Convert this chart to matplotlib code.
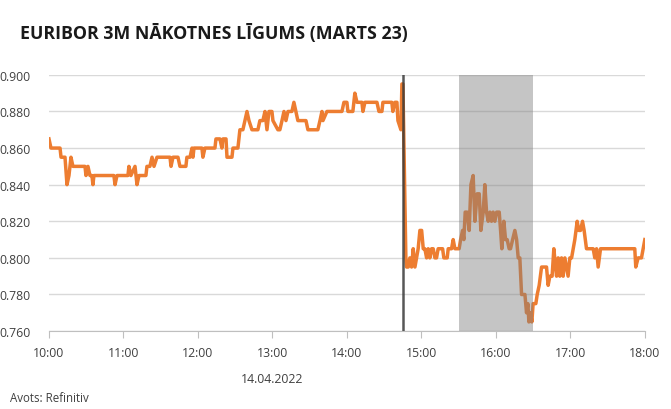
import matplotlib.pyplot as plt

# minūtes kopš 10:00 un cena
minutes = [0, 1.6, 8.9, 9.7, 12.9, 14.5, 16.1, 17.7, 19.3, 29.0, 29.8, 31.4, 33.0, 34.6, 35.4, 36.2,
           52.3, 53.2, 54.8, 63.6, 64.4, 66.0, 69.3, 70.9, 72.5, 78.1, 78.9, 81.3, 83.0, 84.6, 87.0,
           97.5, 98.3, 99.9, 103.9, 105.5, 110.3, 111.1, 113.6, 115.2, 116.0, 116.8, 123.2, 124.0,
           125.6, 133.7, 134.5, 137.7, 139.3, 140.1, 142.6, 143.4, 147.4, 148.2, 152.2, 153.8, 156.2,
           159.5, 161.1, 163.5, 168.3, 169.9, 172.3, 174.0, 174.8, 175.6, 177.2, 179.6, 180.4, 184.4,
           186.0, 187.7, 189.3, 190.9, 192.5, 195.7, 197.3, 200.5, 207.0, 208.6, 216.6, 218.3, 219.9,
           220.7, 223.9, 236.0, 237.6, 240.0, 240.8, 244.8, 246.4, 248.1, 252.1, 252.9, 254.5, 264.2,
           265.8, 268.2, 269.0, 276.2, 277.0, 278.7, 280.3, 281.1, 283.5, 284.3, 285.1, 287.5,
           288.1, 289.4, 290.7, 292.1, 293.4, 294.8, 296.1, 297.4, 298.8, 300.2, 301.5, 302.8, 304.2,
           305.5, 306.8, 308.2, 309.5, 310.9, 312.2, 313.5, 317.1, 318.1, 320.8, 321.6, 324.3, 325.6,
           327.0, 330.4, 331.6, 333.2, 334.2, 335.3, 336.9, 338.5, 339.9, 341.7, 343.1, 344.9, 346.6,
           347.9, 349.8, 351.1, 352.5, 353.8, 355.2, 356.5, 357.8, 359.2, 360.6, 362.7, 363.8, 364.8,
           366.4, 367.8, 369.1, 370.7, 371.8, 373.5, 375.3, 376.7, 378.0, 379.3, 380.7, 383.4, 384.7,
           385.8, 386.6, 387.9, 389.0, 390.0, 392.2, 393.3, 394.9, 396.8, 400.8, 402.1, 403.5, 405.3,
           406.7, 408.1, 408.9, 410.2, 411.5, 412.9, 414.2, 415.6, 416.9, 418.2, 419.6, 421.0, 422.3,
           423.6, 425.5, 426.8, 428.2, 429.8, 431.1, 433.0, 438.4, 439.7, 441.1, 442.4, 444.3, 471.9,
           472.7, 474.6, 477.3, 480.0]
price = [0.865, 0.860, 0.860, 0.855, 0.855, 0.840, 0.845, 0.855, 0.850, 0.850, 0.845, 0.850, 0.845,
         0.845, 0.840, 0.845, 0.845, 0.840, 0.845, 0.845, 0.850, 0.845, 0.850, 0.840, 0.845, 0.845,
         0.850, 0.850, 0.855, 0.850, 0.855, 0.855, 0.850, 0.855, 0.855, 0.850, 0.850, 0.855, 0.855,
         0.860, 0.855, 0.860, 0.860, 0.855, 0.860, 0.860, 0.865, 0.865, 0.860, 0.865, 0.865, 0.855,
         0.855, 0.860, 0.860, 0.870, 0.870, 0.880, 0.875, 0.870, 0.870, 0.875, 0.875, 0.880, 0.875,
         0.870, 0.880, 0.880, 0.875, 0.870, 0.870, 0.875, 0.880, 0.875, 0.880, 0.880, 0.885, 0.875,
         0.875, 0.870, 0.870, 0.875, 0.880, 0.875, 0.880, 0.880, 0.885, 0.885, 0.880, 0.880, 0.890,
         0.885, 0.885, 0.880, 0.885, 0.885, 0.880, 0.880, 0.885, 0.885, 0.880, 0.885, 0.885, 0.875,
         0.870, 0.895, 0.895, 0.800,
         0.795, 0.795, 0.800, 0.795, 0.805, 0.795, 0.800, 0.805, 0.815, 0.815, 0.805, 0.805, 0.800,
         0.805, 0.800, 0.805, 0.805, 0.800, 0.800, 0.805, 0.805, 0.800, 0.800, 0.805, 0.805, 0.810,
         0.805, 0.805, 0.810, 0.815, 0.810, 0.825, 0.825, 0.815, 0.840, 0.845, 0.820, 0.835, 0.835,
         0.815, 0.825, 0.840, 0.825, 0.820, 0.825, 0.820, 0.825, 0.820, 0.825, 0.825, 0.815, 0.805,
         0.820, 0.810, 0.810, 0.805, 0.805, 0.810, 0.815, 0.810, 0.800, 0.800, 0.780, 0.780, 0.770,
         0.775, 0.765, 0.770, 0.765, 0.775, 0.775, 0.780, 0.785, 0.795, 0.795, 0.785, 0.790, 0.790,
         0.805, 0.795, 0.790, 0.800, 0.790, 0.800, 0.790, 0.800, 0.795, 0.790, 0.800, 0.800, 0.805,
         0.810, 0.820, 0.815, 0.815, 0.820, 0.815, 0.805, 0.805, 0.800, 0.805, 0.795, 0.805, 0.805,
         0.795, 0.800, 0.800, 0.810]

hour_labels = ['10:00', '11:00', '12:00', '13:00', '14:00', '15:00', '16:00', '17:00', '18:00']
y_ticks = [0.760, 0.780, 0.800, 0.820, 0.840, 0.860, 0.880, 0.900]
ecb_decision = 285            # 14:45
press_conf = (330, 390)       # 15:30 - 16:30

plt.rcParams['font.family'] = ['Open Sans', 'DejaVu Sans']

fig = plt.figure(figsize=(6.71, 4.10), dpi=100)
ax = fig.add_axes([0.073, 0.19, 0.888, 0.625])

ax.plot(minutes, price, color='#ED7D31', linewidth=2.5, zorder=2)
ax.axvspan(press_conf[0], press_conf[1], color='#7f7f7f', alpha=0.45, linewidth=0, zorder=3)
ax.axvline(ecb_decision, color='#3a3a3a', alpha=0.85, linewidth=1.8, zorder=4)

ax.set_xlim(0, 480)
ax.set_ylim(0.760, 0.900)
ax.set_xticks(range(0, 481, 60))
ax.set_xticklabels(hour_labels)
ax.set_yticks(y_ticks)
ax.set_yticklabels([f'{v:.3f}' for v in y_ticks])

ax.grid(axis='y', color='#d9d9d9', linewidth=1)
ax.set_axisbelow(True)
for s in ['top', 'right', 'left']:
    ax.spines[s].set_visible(False)
ax.spines['bottom'].set_color('#bfbfbf')
ax.tick_params(axis='x', length=5, color='#bfbfbf', pad=6, labelsize=8.8, labelcolor='#404040')
ax.tick_params(axis='y', length=0, pad=13, labelsize=8.8, labelcolor='#404040')

fig.text(0.03, 0.918, 'EURIBOR 3M NĀKOTNES LĪGUMS (MARTS 23)', fontsize=12.8, fontweight='bold',
         color='#1a1a1a', va='center')
fig.text(272 / 671, 1 - 380 / 410, '14.04.2022', fontsize=8.8, color='#404040', ha='center', va='center')
fig.text(10 / 671, 1 - 399 / 410, 'Avots: Refinitiv', fontsize=8.3, color='#404040', va='center')

fig.savefig('out.png', dpi=100)
